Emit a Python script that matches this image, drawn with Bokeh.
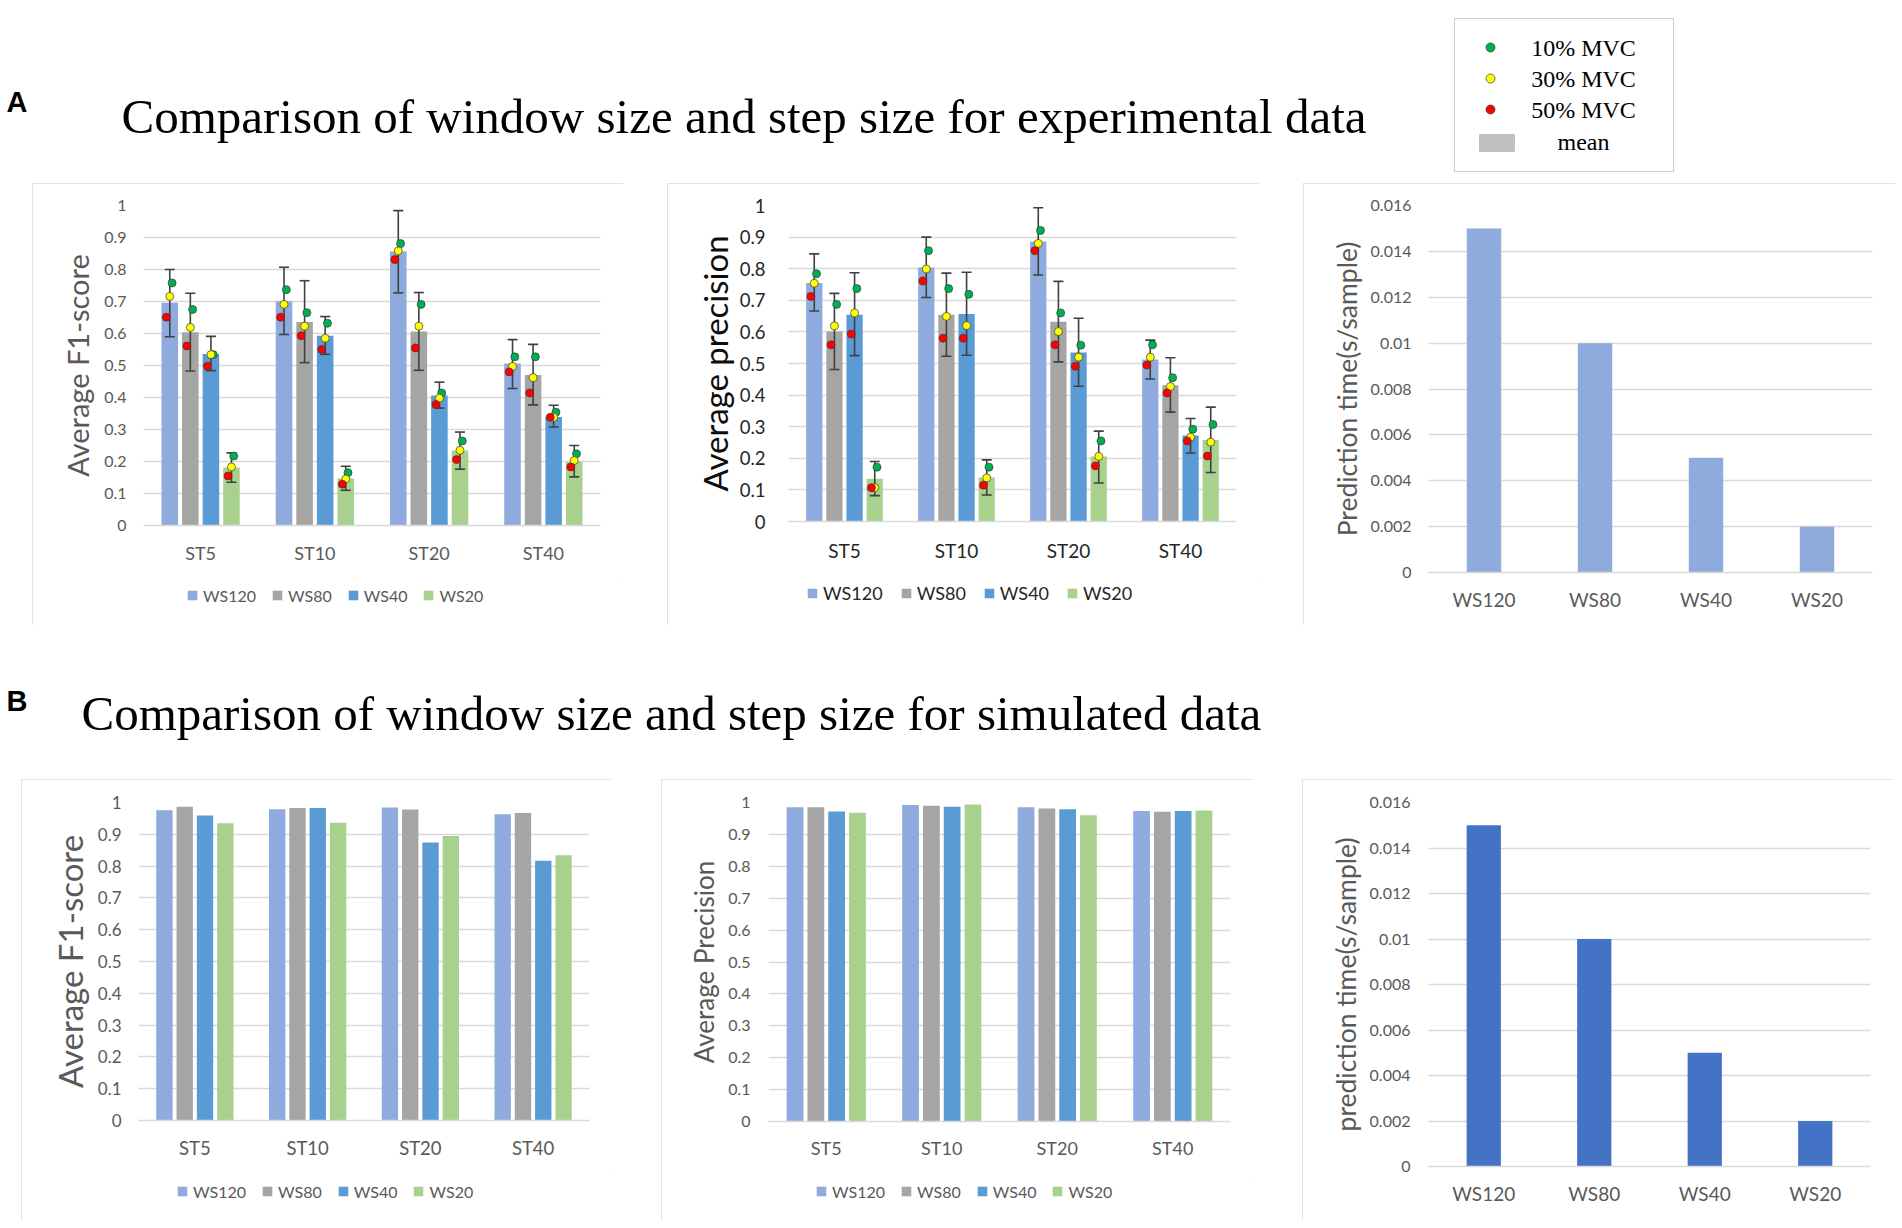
from bokeh.plotting import figure
from bokeh.models import (ColumnDataSource, FactorRange, Range1d, Legend, LegendItem,
                          FixedTicker, CustomJSTickFormatter, Label, BoxAnnotation, Spacer)
from bokeh.layouts import column, row
from bokeh.transform import dodge
from bokeh.embed import file_html
from bokeh.resources import INLINE

# ---------------- data ----------------
steps = ["ST5", "ST10", "ST20", "ST40"]
windows = ["WS120", "WS80", "WS40", "WS20"]
mvc_labels = ["10% MVC", "30% MVC", "50% MVC", "mean"]

title_a = "Comparison of window size and step size for experimental data"
title_b = "Comparison of window size and step size for simulated data"

# experimental F1-score (rows: WS120, WS80, WS40, WS20 ; cols: ST5, ST10, ST20, ST40)
exp_f1_mean = [[0.696, 0.701, 0.856, 0.506],
               [0.604, 0.636, 0.606, 0.470],
               [0.536, 0.593, 0.406, 0.339],
               [0.181, 0.147, 0.234, 0.200]]
exp_f1_upper = [[0.800, 0.807, 0.984, 0.581],
                [0.726, 0.765, 0.728, 0.566],
                [0.591, 0.653, 0.448, 0.376],
                [0.227, 0.185, 0.292, 0.250]]
exp_f1_lower = [[0.590, 0.597, 0.727, 0.428],
                [0.483, 0.509, 0.485, 0.377],
                [0.484, 0.535, 0.367, 0.308],
                [0.135, 0.110, 0.176, 0.152]]
exp_f1_mvc10 = [[0.758, 0.737, 0.881, 0.527],
                [0.675, 0.665, 0.691, 0.527],
                [0.534, 0.632, 0.414, 0.354],
                [0.217, 0.165, 0.264, 0.224]]
exp_f1_mvc30 = [[0.716, 0.691, 0.858, 0.497],
                [0.619, 0.623, 0.623, 0.462],
                [0.534, 0.585, 0.398, 0.338],
                [0.183, 0.145, 0.235, 0.203]]
exp_f1_mvc50 = [[0.651, 0.651, 0.831, 0.480],
                [0.561, 0.593, 0.555, 0.414],
                [0.498, 0.550, 0.378, 0.338],
                [0.155, 0.129, 0.206, 0.183]]

# experimental precision
exp_pr_mean = [[0.755, 0.804, 0.886, 0.513],
               [0.601, 0.654, 0.632, 0.431],
               [0.654, 0.657, 0.535, 0.272],
               [0.135, 0.139, 0.206, 0.258]]
exp_pr_upper = [[0.847, 0.900, 0.993, 0.574],
                [0.722, 0.786, 0.760, 0.518],
                [0.787, 0.789, 0.643, 0.326],
                [0.190, 0.195, 0.286, 0.362]]
exp_pr_lower = [[0.666, 0.709, 0.780, 0.451],
                [0.481, 0.523, 0.505, 0.346],
                [0.525, 0.526, 0.428, 0.217],
                [0.082, 0.084, 0.122, 0.155]]
exp_pr_mvc10 = [[0.784, 0.857, 0.921, 0.559],
                [0.687, 0.737, 0.660, 0.455],
                [0.737, 0.719, 0.558, 0.292],
                [0.172, 0.172, 0.255, 0.307]]
exp_pr_mvc30 = [[0.754, 0.799, 0.880, 0.520],
                [0.619, 0.649, 0.601, 0.427],
                [0.660, 0.620, 0.520, 0.267],
                [0.107, 0.138, 0.206, 0.251]]
exp_pr_mvc50 = [[0.712, 0.761, 0.857, 0.495],
                [0.559, 0.580, 0.559, 0.407],
                [0.593, 0.580, 0.491, 0.255],
                [0.107, 0.115, 0.176, 0.207]]

# simulated data
sim_f1_mean = [[0.976, 0.979, 0.984, 0.963],
               [0.987, 0.983, 0.978, 0.967],
               [0.959, 0.983, 0.874, 0.817],
               [0.935, 0.936, 0.895, 0.834]]
sim_pr_mean = [[0.985, 0.992, 0.985, 0.973],
               [0.985, 0.990, 0.981, 0.971],
               [0.972, 0.987, 0.979, 0.973],
               [0.968, 0.994, 0.960, 0.975]]

# prediction time (s/sample)
exp_time = [0.015, 0.010, 0.005, 0.002]
sim_time = [0.015, 0.010, 0.005, 0.002]

score_ticks = [i / 10 for i in range(11)]
time_ticks = [i / 500 for i in range(9)]

# ---------------- styles ----------------
BAR_COLORS = ["#8FAADC", "#A5A5A5", "#5B9BD5", "#A9D18E"]
DOT_COLORS = ["#00B050", "#FFFF00", "#FF0000"]
DOT_JITTER = [0.02, 0.0, -0.03]
OFFSETS = [-0.27, -0.09, 0.09, 0.27]
BAR_W = 0.145
GRID = "#D9D9D9"
FONT = "Lato"
BOX_CSS = {"outline": "1px solid #D9D9D9", "outline-offset": "-1px"}
PLOT_BOTTOM = 55


def base_fig(width, height, factors, y_end, ticks, borders, st, outline=True):
    l, r, t, b = borders
    p = figure(frame_width=width - l - r, frame_height=height - t - b,
               x_range=FactorRange(*factors),
               y_range=Range1d(0, y_end), output_backend="svg", toolbar_location=None,
               title=None,
               min_border_left=l, min_border_right=r, min_border_top=t, min_border_bottom=b)
    p.outline_line_color = None
    p.background_fill_color = "white"
    p.border_fill_color = "white"
    p.xgrid.grid_line_color = None
    tk = FixedTicker(ticks=ticks)
    p.yaxis.ticker = tk
    p.ygrid.ticker = tk
    p.ygrid.grid_line_color = GRID
    p.ygrid.grid_line_width = 1.3
    p.yaxis.formatter = CustomJSTickFormatter(code="return String(tick);")
    p.yaxis.axis_line_color = None
    p.yaxis.major_tick_line_color = None
    p.yaxis.minor_tick_line_color = None
    p.yaxis.major_label_text_font = FONT
    p.yaxis.major_label_text_font_size = st["tick_size"]
    p.yaxis.major_label_text_color = st["color"]
    p.yaxis.major_label_standoff = st["tick_standoff"]
    p.yaxis.axis_label = st["ylabel"]
    p.yaxis.axis_label_text_font = FONT
    p.yaxis.axis_label_text_font_style = "normal"
    p.yaxis.axis_label_text_font_size = st["ylabel_size"]
    p.yaxis.axis_label_text_color = st["ylabel_color"]
    p.yaxis.axis_label_standoff = st["ylabel_standoff"]
    p.xaxis.axis_line_color = GRID
    p.xaxis.axis_line_width = 1.3
    p.xaxis.major_tick_line_color = None
    p.xaxis.minor_tick_line_color = None
    p.xaxis.major_label_text_font = FONT
    p.xaxis.major_label_text_font_size = st["cat_size"]
    p.xaxis.major_label_text_color = st["color"]
    p.xaxis.major_label_standoff = st["cat_standoff"]
    if outline:
        p.styles = BOX_CSS
    return p


def legend_strip(width, height, borders, st):
    """Strip under a grouped chart holding its WS legend; same side borders as the chart."""
    l, r = borders
    lf = figure(frame_width=width - l - r, frame_height=height,
                x_range=Range1d(0, 1), y_range=Range1d(0, 1),
                min_border_left=l, min_border_right=r, min_border_top=0, min_border_bottom=0,
                toolbar_location=None, output_backend="svg", title=None,
                x_axis_type=None, y_axis_type=None)
    lf.outline_line_color = None
    lf.border_fill_color = "white"
    lf.grid.visible = False
    # legend proxies, placed completely outside the strip's ranges
    proxies = [lf.vbar(x=[-5], top=[-4], bottom=[-5], width=0.5, fill_color=BAR_COLORS[i],
                       line_color=None) for i in range(len(windows))]
    legend = Legend(items=[LegendItem(label=w, renderers=[proxies[i]]) for i, w in enumerate(windows)],
                    orientation="horizontal",
                    location=(st["legend_x"] - l, height - st["legend_cy"] - 10),
                    glyph_width=12, glyph_height=12, label_standoff=5,
                    spacing=st["legend_spacing"], padding=0, margin=0,
                    border_line_color=None, background_fill_alpha=0, label_text_font=FONT,
                    label_text_font_size=st["legend_size"], label_text_color=st["color"],
                    label_height=20)
    lf.add_layout(legend)
    return lf


def grouped_chart(width, height, borders, st, means, upper=None, lower=None, dots=None):
    l, r, t, b = borders
    plot_h = height - b + PLOT_BOTTOM
    p = base_fig(width, plot_h, steps, 1, score_ticks, (l, r, t, PLOT_BOTTOM), st, outline=False)
    srcs = []
    for i, w in enumerate(windows):
        d = dict(step=steps, mean=means[i])
        if upper is not None:
            d["upper"] = upper[i]
            d["lower"] = lower[i]
        if dots is not None:
            for k in range(3):
                d["m%d" % k] = dots[k][i]
        src = ColumnDataSource(d)
        srcs.append(src)
        p.vbar(x=dodge("step", OFFSETS[i], range=p.x_range), top="mean", width=BAR_W,
               source=src, fill_color=BAR_COLORS[i], line_color=None)
    if upper is not None:
        for i, src in enumerate(srcs):
            xs = dodge("step", OFFSETS[i], range=p.x_range)
            p.segment(x0=xs, y0="lower", x1=xs, y1="upper", source=src,
                      line_color="#404040", line_width=1.6)
            p.scatter(x=xs, y="upper", marker="dash", size=10, source=src,
                      line_color="#404040", line_width=1.6)
            p.scatter(x=xs, y="lower", marker="dash", size=10, source=src,
                      line_color="#404040", line_width=1.6)
    if dots is not None:
        for i, src in enumerate(srcs):
            for k in range(3):
                p.scatter(x=dodge("step", OFFSETS[i] + DOT_JITTER[k], range=p.x_range),
                          y="m%d" % k, size=8, source=src, fill_color=DOT_COLORS[k],
                          line_color="#3A3A3A", line_width=0.7)
    strip = legend_strip(width, b - PLOT_BOTTOM, (l, r),
                         dict(st, legend_cy=st["legend_cy"] - PLOT_BOTTOM))
    return column(p, strip, styles=BOX_CSS)


def time_chart(width, height, borders, st, times, color):
    p = base_fig(width, height, windows, 0.016, time_ticks, borders, st)
    src = ColumnDataSource(dict(ws=windows, t=times))
    p.vbar(x="ws", top="t", width=0.31, source=src, fill_color=color, line_color=None)
    return p


st_a1 = dict(tick_size="16px", color="#595959", tick_standoff=11, ylabel="Average F1-score",
             ylabel_size="29px", ylabel_color="#595959", ylabel_standoff=6,
             cat_size="18px", cat_standoff=10, legend_x=154, legend_cy=70, legend_spacing=15,
             legend_size="16px")
st_a2 = dict(tick_size="18.5px", color="#262626", tick_standoff=17, ylabel="Average precision",
             ylabel_size="33px", ylabel_color="#0D0D0D", ylabel_standoff=2,
             cat_size="19px", cat_standoff=11, legend_x=139, legend_cy=73, legend_spacing=17,
             legend_size="18px")
st_a3 = dict(tick_size="16px", color="#595959", tick_standoff=11,
             ylabel="Prediction time(s/sample)", ylabel_size="26.5px", ylabel_color="#595959",
             ylabel_standoff=5, cat_size="19px", cat_standoff=9)
st_b1 = dict(tick_size="17px", color="#595959", tick_standoff=11, ylabel="Average F1-score",
             ylabel_size="33px", ylabel_color="#595959", ylabel_standoff=5,
             cat_size="18.5px", cat_standoff=10, legend_x=155, legend_cy=71, legend_spacing=15,
             legend_size="16px")
st_b2 = dict(tick_size="16px", color="#595959", tick_standoff=12, ylabel="Average Precision",
             ylabel_size="26px", ylabel_color="#595959", ylabel_standoff=5,
             cat_size="18px", cat_standoff=9, legend_x=154, legend_cy=70, legend_spacing=15,
             legend_size="16px")
st_b3 = dict(tick_size="16px", color="#595959", tick_standoff=12,
             ylabel="prediction time(s/sample)", ylabel_size="26.5px", ylabel_color="#595959",
             ylabel_standoff=5, cat_size="19px", cat_standoff=9)

fa1 = grouped_chart(591, 442, (111, 23, 22, 100), st_a1, exp_f1_mean, exp_f1_upper,
                    exp_f1_lower, [exp_f1_mvc10, exp_f1_mvc30, exp_f1_mvc50])
fa2 = grouped_chart(592, 442, (121, 23, 22, 104), st_a2, exp_pr_mean, exp_pr_upper,
                    exp_pr_lower, [exp_pr_mvc10, exp_pr_mvc30, exp_pr_mvc50])
fa3 = time_chart(592, 442, (125, 23, 22, 53), st_a3, exp_time, "#8FAADC")
fb1 = grouped_chart(590, 441, (117, 22, 23, 100), st_b1, sim_f1_mean)
fb2 = grouped_chart(591, 441, (107, 22, 23, 99), st_b2, sim_pr_mean)
fb3 = time_chart(591, 441, (126, 23, 23, 54), st_b3, sim_time, "#4472C4")


def header(height):
    h = figure(width=1900, height=height, x_range=Range1d(0, 1900), y_range=Range1d(height, 0),
               min_border=0, toolbar_location=None, output_backend="svg", title=None,
               x_axis_type=None, y_axis_type=None)
    h.outline_line_color = None
    h.grid.visible = False
    return h


# ---- header A with the MVC legend box ----
hA = header(183)
hA.add_layout(Label(x=6, y=101, text="A", text_font="Liberation Sans", text_font_style="bold",
                    text_font_size="29px", text_baseline="alphabetic", text_color="black"))
hA.add_layout(Label(x=121, y=116, text=title_a, text_font="Liberation Serif",
                    text_font_size="49px", text_baseline="alphabetic", text_color="black"))
hA.add_layout(BoxAnnotation(left=1454, right=1673, top=18, bottom=171, fill_color="white",
                            fill_alpha=1, line_color="#595959", line_width=1, level="underlay"))
key_rows = [47, 78, 109, 141]
key_src = ColumnDataSource(dict(x=[1490, 1490, 1490], y=key_rows[:3], c=DOT_COLORS))
hA.scatter(x="x", y="y", size=9, fill_color="c", line_color="#3A3A3A", line_width=0.7,
           source=key_src)
hA.add_layout(BoxAnnotation(left=1479, right=1514, top=134, bottom=151, fill_color="#BFBFBF",
                            fill_alpha=1, line_color="#7F7F7F", line_width=1))
for k, lab in enumerate(mvc_labels):
    hA.add_layout(Label(x=1583, y=key_rows[k], text=lab, text_font="Liberation Serif",
                        text_font_size="24px", text_align="center", text_baseline="middle",
                        text_color="black"))

# ---- header B ----
hB = header(154)
hB.add_layout(Label(x=6, y=75, text="B", text_font="Liberation Sans", text_font_style="bold",
                    text_font_size="29px", text_baseline="alphabetic", text_color="black"))
hB.add_layout(Label(x=81, y=88, text=title_b, text_font="Liberation Serif",
                    text_font_size="49px", text_baseline="alphabetic", text_color="black"))

row_a = row(Spacer(width=32, height=442), fa1, Spacer(width=44, height=442), fa2,
            Spacer(width=44, height=442), fa3)
row_b = row(Spacer(width=21, height=441), fb1, Spacer(width=50, height=441), fb2,
            Spacer(width=50, height=441), fb3)
layout = column(hA, row_a, hB, row_b)
open("out.html", "w").write(file_html(layout, INLINE))
